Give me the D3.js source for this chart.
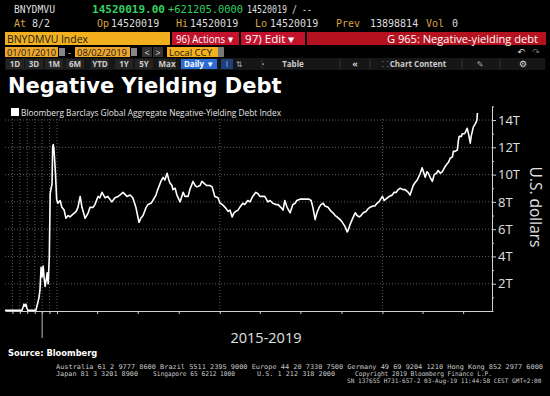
<!DOCTYPE html>
<html>
<head>
<meta charset="utf-8">
<script src="https://cdn.jsdelivr.net/npm/d3@7"></script>
<style>
  html, body { margin: 0; padding: 0; background: #000; }
  svg { display: block; }
</style>
</head>
<body>
<svg id="chart"></svg>
<script>
// series (trillions of US dollars)
const dates = [
  "2010-01-01","2012-04-15","2012-06-10","2012-07-20","2012-09-05","2012-10-25","2012-12-15","2013-02-01",
  "2014-03-01","2014-06-01","2014-08-01","2014-09-20","2014-11-10","2015-01-01","2015-02-20","2015-04-10",
  "2015-05-30","2015-07-20","2015-09-05","2015-10-25","2015-12-20","2016-02-01","2016-03-20","2016-05-01",
  "2016-06-01","2016-07-01","2016-08-01","2016-09-10","2016-10-20","2016-12-15",
  "2017-01-03","2017-01-08","2017-01-12","2017-01-17","2017-01-21","2017-01-26","2017-01-30","2017-02-06",
  "2017-02-13","2017-02-17","2017-02-22","2017-02-26","2017-03-05","2017-03-12","2017-03-16","2017-03-23",
  "2017-03-27","2017-04-03","2017-04-07","2017-04-12","2017-04-19","2017-04-25","2017-05-04","2017-05-11",
  "2017-05-18","2017-05-22","2017-05-29","2017-06-07","2017-06-14","2017-06-20","2017-06-27","2017-07-02",
  "2017-07-04","2017-07-08","2017-07-13","2017-07-20","2017-07-24","2017-07-31","2017-08-04","2017-08-11",
  "2017-08-15","2017-08-22","2017-08-27","2017-08-31","2017-09-05","2017-09-09","2017-09-11","2017-09-16",
  "2017-09-18","2017-09-23","2017-09-27","2017-10-04","2017-10-11","2017-10-15","2017-10-22","2017-10-26",
  "2017-11-02","2017-11-07","2017-11-11","2017-11-18","2017-11-22","2017-11-29","2017-12-03","2017-12-10",
  "2017-12-15","2017-12-21","2017-12-28",
  "2018-01-02","2018-01-07","2018-01-13","2018-01-20","2018-01-24","2018-01-29","2018-02-02","2018-02-06",
  "2018-02-11","2018-02-15","2018-02-22","2018-02-26","2018-03-05","2018-03-10","2018-03-16","2018-03-23",
  "2018-03-28","2018-04-01","2018-04-08","2018-04-12","2018-04-19","2018-04-24","2018-04-30","2018-05-07",
  "2018-05-12","2018-05-18","2018-05-23","2018-05-27","2018-06-01","2018-06-08","2018-06-14","2018-06-19",
  "2018-06-23","2018-06-30","2018-07-07","2018-07-13","2018-07-20","2018-07-25","2018-07-29","2018-08-03",
  "2018-08-07","2018-08-12","2018-08-16","2018-08-21","2018-08-25","2018-09-01","2018-09-08","2018-09-12",
  "2018-09-17","2018-09-21","2018-09-28","2018-10-03","2018-10-07","2018-10-09","2018-10-14","2018-10-16",
  "2018-10-20","2018-10-25","2018-11-01","2018-11-05","2018-11-10","2018-11-14","2018-11-19","2018-11-25",
  "2018-11-30","2018-12-04","2018-12-11","2018-12-15","2018-12-20","2018-12-24",
  "2019-01-01","2019-01-05","2019-01-12","2019-01-16","2019-01-23","2019-01-27","2019-02-01","2019-02-05",
  "2019-02-10","2019-02-16","2019-02-21","2019-02-28","2019-03-04","2019-03-11","2019-03-15","2019-03-20",
  "2019-03-27","2019-03-31","2019-04-05","2019-04-07","2019-04-11","2019-04-14","2019-04-18","2019-04-23",
  "2019-04-27","2019-05-02","2019-05-06","2019-05-11","2019-05-15","2019-05-20","2019-05-24","2019-05-29",
  "2019-06-02","2019-06-07","2019-06-09","2019-06-13","2019-06-18","2019-06-20","2019-06-22","2019-06-27",
  "2019-06-29","2019-07-04","2019-07-06","2019-07-10","2019-07-13","2019-07-17","2019-07-19","2019-07-24",
  "2019-07-28","2019-08-01","2019-08-02"
];
const values = [
  0.05,0.05,0.3,0.5,0.35,0.5,0.2,0.05,
  0.05,0.6,1.0,1.6,3.2,2.5,3.3,2.4,
  1.8,2.3,2.8,2.0,4.0,8.6,9.0,9.3,
  12.0,12.2,11.9,11.0,10.0,8.2,
  7.9,8.1,7.6,7.4,6.8,7.0,6.9,7.1,
  7.3,7.6,8.4,7.6,6.8,7.2,7.6,7.6,
  7.8,8.4,8.3,8.7,8.3,8.4,8.0,8.3,
  8.4,8.5,8.7,8.4,8.5,8.3,7.6,6.8,
  6.5,6.8,7.0,7.6,7.8,7.9,8.1,8.5,
  8.9,9.5,9.8,9.6,10.1,9.6,9.4,9.2,
  8.9,9.0,8.5,8.0,8.7,8.4,8.4,8.9,
  9.5,9.2,9.1,9.2,9.5,9.3,9.2,9.2,
  9.1,8.4,8.3,
  7.9,7.8,7.6,7.3,7.4,6.9,7.2,7.3,
  7.4,7.6,7.9,7.8,8.1,8.0,8.4,8.7,
  8.6,8.4,8.4,8.4,8.0,8.1,7.9,7.8,
  7.8,7.6,7.4,8.1,7.6,7.2,7.8,7.9,
  8.1,8.2,8.2,8.2,8.2,8.1,7.6,6.7,
  7.2,7.6,7.8,7.9,7.7,7.6,7.3,7.2,
  7.0,6.9,6.7,6.5,6.3,6.2,5.8,5.9,
  6.3,6.7,7.2,7.0,6.9,7.0,7.2,7.3,
  7.5,7.6,7.7,7.7,7.9,8.0,
  8.4,8.1,8.3,8.4,8.5,8.7,8.7,8.9,
  9.0,8.9,8.9,8.7,8.5,9.2,9.4,9.6,
  10.1,10.5,10.0,9.8,10.2,10.1,9.8,9.5,
  10.0,10.1,10.3,10.1,10.2,10.5,10.7,10.9,
  11.2,11.3,11.7,11.7,11.8,12.4,12.8,12.8,
  13.0,13.0,13.1,13.4,13.0,12.3,12.8,13.5,
  13.7,14.0,14.52
];
const yMajorTicks = [2, 4, 6, 8, 10, 12, 14];
const yMinorTicks = [1, 3, 5, 7, 9, 11, 13, 15];
const xDomainDates = ["2010-01-01", "2017-01-01", "2019-09-06"];
const markerDate = "2015-01-01";

const title = "Negative Yielding Debt";
const legendLabel = "Bloomberg Barclays Global Aggregate Negative-Yielding Debt Index";
const xLabel = "2015-2019";
const yLabel = "U.S. dollars";
const source = "Source: Bloomberg";

const width = 550, height = 396;
const plot = {left: 5, right: 493, top: 106.4, bottom: 311};

const svg = d3.select('#chart')
    .attr('width', width)
    .attr('height', height)
    .style('background', '#000');

const parseDate = d3.timeParse("%Y-%m-%d");
const data = dates.map((d, i) => ({date: parseDate(d), value: values[i]}));

// ---------- terminal header ----------
const mono = "'DejaVu Sans Mono', monospace";
const sans = "'Open Sans', sans-serif";
const gold = "#d9a441";
const header = svg.append('g');

function txt(g, x, y, s, opts) {
  const t = g.append('text').attr('x', x).attr('y', y).text(s)
      .attr('font-family', opts.font || mono)
      .attr('font-size', opts.size || 10)
      .attr('fill', opts.fill || '#ddd');
  if (opts.weight) t.attr('font-weight', opts.weight);
  if (opts.anchor) t.attr('text-anchor', opts.anchor);
  if (opts.len) t.attr('textLength', opts.len).attr('lengthAdjust', 'spacingAndGlyphs');
  return t;
}

// row 1
txt(header, 14, 13, "BNYDMVU", {size: 10, len: 41});
txt(header, 92, 13, "14520019.00", {size: 11, fill: '#34d060', weight: 'bold', len: 73});
txt(header, 168, 13, "+621205.0000", {size: 11, fill: '#34d060', len: 75});
txt(header, 247, 13, "14520019 / --", {size: 10, len: 65});
// row 2
[["At", 14, gold], ["8/2", 32, '#ddd'], ["Op", 97, gold], ["14520019", 111, '#ddd'],
 ["Hi", 176, gold], ["14520019", 190, '#ddd'], ["Lo", 255, gold], ["14520019", 270, '#ddd'],
 ["Prev", 336, gold], ["13898814", 370, '#ddd'], ["Vol", 426, gold], ["0", 452, '#ddd']]
  .forEach(d => txt(header, d[1], 27, d[0], {size: 10, fill: d[2]}));

// row 3
header.append('rect').attr('x', 5).attr('y', 32).attr('width', 165).attr('height', 13).attr('fill', '#f2b01e');
txt(header, 7, 42.5, "BNYDMVU Index", {font: sans, size: 11, fill: '#1a1a1a', len: 81});
header.append('rect').attr('x', 172).attr('y', 32).attr('width', 67).attr('height', 13).attr('fill', '#c3122b');
txt(header, 176, 42.5, "96) Actions ▾", {font: sans, size: 10.5, fill: '#fff', len: 57});
header.append('rect').attr('x', 241).attr('y', 32).attr('width', 64).attr('height', 13).attr('fill', '#c3122b');
txt(header, 245, 42.5, "97) Edit ▾", {font: sans, size: 10.5, fill: '#fff', len: 50});
header.append('rect').attr('x', 307).attr('y', 32).attr('width', 239).attr('height', 13).attr('fill', '#b5121f');
txt(header, 538, 42.5, "G 965: Negative-yielding debt", {font: sans, size: 10.5, fill: '#fff', anchor: 'end', len: 151});

// row 4
header.append('rect').attr('x', 5).attr('y', 47).attr('width', 53).attr('height', 10).attr('fill', '#eea52c');
txt(header, 7, 55.5, "01/01/2010", {font: sans, size: 9, fill: '#1a1a1a', len: 49});
header.append('rect').attr('x', 59).attr('y', 48).attr('width', 6).attr('height', 8).attr('fill', '#888');
txt(header, 68, 55.5, "-", {font: sans, size: 9, fill: '#ddd'});
header.append('rect').attr('x', 75).attr('y', 47).attr('width', 55).attr('height', 10).attr('fill', '#eea52c');
txt(header, 77, 55.5, "08/02/2019", {font: sans, size: 9, fill: '#1a1a1a', len: 50});
header.append('rect').attr('x', 131).attr('y', 48).attr('width', 6).attr('height', 8).attr('fill', '#888');
header.append('rect').attr('x', 142).attr('y', 47).attr('width', 10).attr('height', 10).attr('fill', '#333');
header.append('rect').attr('x', 153).attr('y', 47).attr('width', 10).attr('height', 10).attr('fill', '#333');
txt(header, 147, 55.5, "<", {font: sans, size: 9, fill: '#ddd', anchor: 'middle'});
txt(header, 158, 55.5, ">", {font: sans, size: 9, fill: '#ddd', anchor: 'middle'});
header.append('rect').attr('x', 167).attr('y', 47).attr('width', 51).attr('height', 10).attr('fill', '#f2b01e');
txt(header, 169, 55.5, "Local CCY", {font: sans, size: 9, fill: '#1a1a1a', len: 43});
header.append('rect').attr('x', 218).attr('y', 47).attr('width', 6).attr('height', 10).attr('fill', '#777');
txt(header, 521, 55, "↶", {font: "'DejaVu Sans'", size: 9, fill: '#ddd', anchor: 'middle'});
txt(header, 536, 55, "↷", {font: "'DejaVu Sans'", size: 9, fill: '#777', anchor: 'middle'});

// row 5
header.append('rect').attr('x', 5).attr('y', 58).attr('width', 540).attr('height', 12).attr('fill', '#161616');
[["1D", 15], ["3D", 34], ["1M", 54], ["6M", 75], ["YTD", 100], ["1Y", 124], ["5Y", 144], ["Max", 167]]
  .forEach(d => {
    header.append('rect').attr('x', d[1] - 9).attr('y', 59).attr('width', 18).attr('height', 10).attr('fill', '#242424');
    txt(header, d[1], 67, d[0], {font: sans, size: 8, fill: '#ccc', weight: 'bold', anchor: 'middle'});
  });
header.append('rect').attr('x', 181).attr('y', 59).attr('width', 36).attr('height', 10).attr('fill', '#2a6bd4');
txt(header, 199, 67, "Daily ▼", {font: sans, size: 8, fill: '#fff', weight: 'bold', anchor: 'middle'});
header.append('rect').attr('x', 221).attr('y', 59).attr('width', 12).attr('height', 10).attr('fill', '#1e3f7a');
txt(header, 227, 67, "⌇", {font: "'DejaVu Sans'", size: 8, fill: '#8ab4ff', anchor: 'middle'});
txt(header, 239, 67, "⇅", {font: "'DejaVu Sans'", size: 8, fill: '#aaa', anchor: 'middle'});
txt(header, 263, 67, "•", {font: sans, size: 8, fill: '#aaa', anchor: 'middle'});
txt(header, 293, 67, "Table", {font: sans, size: 8, fill: '#ccc', weight: 'bold', anchor: 'middle'});
txt(header, 355, 67, "«", {font: sans, size: 9, fill: '#ccc', weight: 'bold', anchor: 'middle'});
txt(header, 385, 67, "⸬", {font: "'DejaVu Sans'", size: 8, fill: '#aaa', anchor: 'middle'});
txt(header, 418, 67, "Chart Content", {font: sans, size: 8, fill: '#ccc', weight: 'bold', anchor: 'middle'});
txt(header, 480, 67, "✎", {font: "'DejaVu Sans'", size: 8, fill: '#aaa', anchor: 'middle'});
txt(header, 523, 67, "⚙", {font: "'DejaVu Sans'", size: 9, fill: '#ddd', anchor: 'middle'});
[262, 340, 370, 462, 500].forEach(sx =>
  header.append('line').attr('x1', sx).attr('x2', sx).attr('y1', 59).attr('y2', 69).attr('stroke', '#333'));

// ---------- chart ----------
svg.append('text').attr('x', 8).attr('y', 93).text(title)
    .attr('font-family', "'DejaVu Sans', sans-serif").attr('font-weight', 'bold')
    .attr('font-size', 21).attr('fill', '#fff');

svg.append('rect').attr('x', 11).attr('y', 108).attr('width', 8).attr('height', 8).attr('fill', '#fff');
svg.append('text').attr('x', 21).attr('y', 116).text(legendLabel)
    .attr('font-family', sans).attr('font-size', 9.5).attr('fill', '#e6e6e6')
    .attr('textLength', 260).attr('lengthAdjust', 'spacingAndGlyphs');

const x = d3.scaleTime()
    .domain(xDomainDates.map(parseDate))
    .range([plot.left, 57, plot.right]);
const y = d3.scaleLinear()
    .domain([0, 15])
    .range([plot.bottom, plot.top]);

// grid
const grid = svg.append('g').attr('stroke', '#5c5c5c').attr('stroke-dasharray', '1,2');
grid.selectAll('line.h').data(yMajorTicks).enter().append('line')
    .attr('x1', plot.left).attr('x2', 492)
    .attr('y1', d => y(d)).attr('y2', d => y(d));
const yearLines = d3.timeYear.range(parseDate("2011-01-01"), parseDate("2019-06-01"));
grid.selectAll('line.v').data(yearLines).enter().append('line')
    .attr('x1', d => x(d)).attr('x2', d => x(d))
    .attr('y1', 119).attr('y2', plot.bottom);

// x axis
const xTicks = d3.timeYear.range(parseDate("2011-01-01"), parseDate("2017-06-01"))
    .concat(d3.timeMonth.every(3).range(parseDate("2017-04-01"), parseDate("2019-09-01")));
const xAxis = svg.append('g')
    .attr('transform', 'translate(0,' + plot.bottom + ')')
    .call(d3.axisBottom(x).tickValues(xTicks).tickSize(3).tickSizeOuter(0).tickFormat(''));
xAxis.selectAll('path, line').attr('stroke', '#d0d0d0');
svg.append('line')
    .attr('x1', x(parseDate(markerDate))).attr('x2', x(parseDate(markerDate)))
    .attr('y1', plot.bottom).attr('y2', 338).attr('stroke', '#bbb');

svg.append('text').attr('x', 266).attr('y', 343).text(xLabel)
    .attr('text-anchor', 'middle').attr('font-family', sans)
    .attr('font-size', 14.5).attr('fill', '#e0e0e0');

// y axis
const yAxis = svg.append('g')
    .attr('transform', 'translate(492,0)')
    .call(d3.axisRight(y).tickValues(yMajorTicks).tickSize(4).tickSizeOuter(0)
        .tickPadding(2).tickFormat(d => d + 'T'));
yAxis.selectAll('path, line').attr('stroke', '#d0d0d0');
yAxis.selectAll('text').attr('fill', '#e0e0e0').attr('font-family', sans).attr('font-size', 13);
const yMinor = svg.append('g')
    .attr('transform', 'translate(492,0)')
    .call(d3.axisRight(y).tickValues(yMinorTicks).tickSize(2).tickSizeOuter(0).tickFormat(''));
yMinor.select('path').remove();
yMinor.selectAll('line').attr('stroke', '#d0d0d0');

svg.append('text')
    .attr('transform', 'translate(530,207) rotate(90)')
    .text(yLabel).attr('text-anchor', 'middle')
    .attr('font-family', sans).attr('font-size', 15.5).attr('fill', '#e0e0e0');

// series
svg.append('path')
    .datum(data)
    .attr('fill', 'none')
    .attr('stroke', '#fff')
    .attr('stroke-width', 1.6)
    .attr('stroke-linejoin', 'round')
    .attr('d', d3.line().x(d => x(d.date)).y(d => y(d.value)));

// ---------- footer ----------
svg.append('text').attr('x', 8).attr('y', 356).text(source)
    .attr('font-family', "'DejaVu Sans', sans-serif").attr('font-weight', 'bold')
    .attr('font-size', 8.3).attr('fill', '#fff');

const foot = svg.append('g');
txt(foot, 56, 369, "Australia 61 2 9777 8600 Brazil 5511 2395 9000 Europe 44 20 7330 7500 Germany 49 69 9204 1210 Hong Kong 852 2977 6000",
    {size: 6.5, fill: '#c8c8c8', len: 487});
txt(foot, 56, 376, "Japan 81 3 3201 8900", {size: 6.5, fill: '#c8c8c8', len: 82});
txt(foot, 153, 376, "Singapore 65 6212 1000", {size: 6.5, fill: '#c8c8c8', len: 82});
txt(foot, 257, 376, "U.S. 1 212 318 2000", {size: 6.5, fill: '#c8c8c8', len: 78});
txt(foot, 355, 376, "Copyright 2019 Bloomberg Finance L.P.", {size: 6.5, fill: '#c8c8c8', len: 137});
txt(foot, 347, 383, "SN 137655 H731-657-2 03-Aug-19 11:44:58 CEST GMT+2:00", {size: 6.1, fill: '#c8c8c8'});
</script>
</body>
</html>
